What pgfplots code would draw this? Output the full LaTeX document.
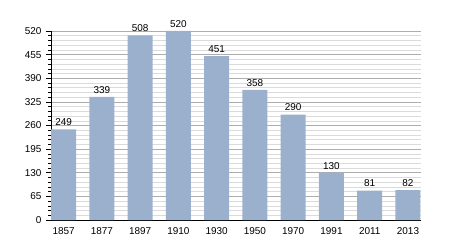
\documentclass[border=0pt]{standalone}
\usepackage{pgfplots}
\pgfplotsset{compat=1.18}
\usepackage{fontspec}
\setmainfont{Liberation Sans}
\definecolor{barc}{RGB}{154,176,204}
\begin{document}
\begin{tikzpicture}
\begin{axis}[
  scale only axis, width=370bp, height=189bp,
  xmin=-0.33, xmax=9.34, ymin=0, ymax=520,
  axis x line=bottom, axis y line=left,
  axis line style={-, black, line width=0.8pt},
  xtick={0,...,9},
  xticklabels={1857,1877,1897,1910,1930,1950,1970,1991,2011,2013},
  x tick style={draw=none},
  ytick={0,65,...,520},
  minor y tick num=4,
  ymajorgrids, yminorgrids,
  major grid style={draw=black!32, line width=0.6pt},
  minor grid style={draw=black!14, line width=0.5pt},
  y tick style={black, line width=0.6pt},
  major tick length=5bp, minor tick length=2.5bp,
  tick align=outside,
  xticklabel style={font=\fontsize{10}{11}\selectfont, yshift=1bp},
  yticklabel style={font=\fontsize{10}{11}\selectfont, xshift=-1bp},
  /pgf/number format/assume math mode=true,
  nodes near coords,
  nodes near coords style={font=\fontsize{10}{11}\selectfont, black},
  clip=false,
]
\addplot[ybar, bar width=25bp, fill=barc, draw=none, bar shift=0pt] coordinates {
(0,249) (1,339) (2,508) (3,520) (4,451) (5,358) (6,290) (7,130) (8,81) (9,82)};
\end{axis}
\path[use as bounding box] (-51bp,-30bp) rectangle (399bp,220bp);
\end{tikzpicture}
\end{document}
